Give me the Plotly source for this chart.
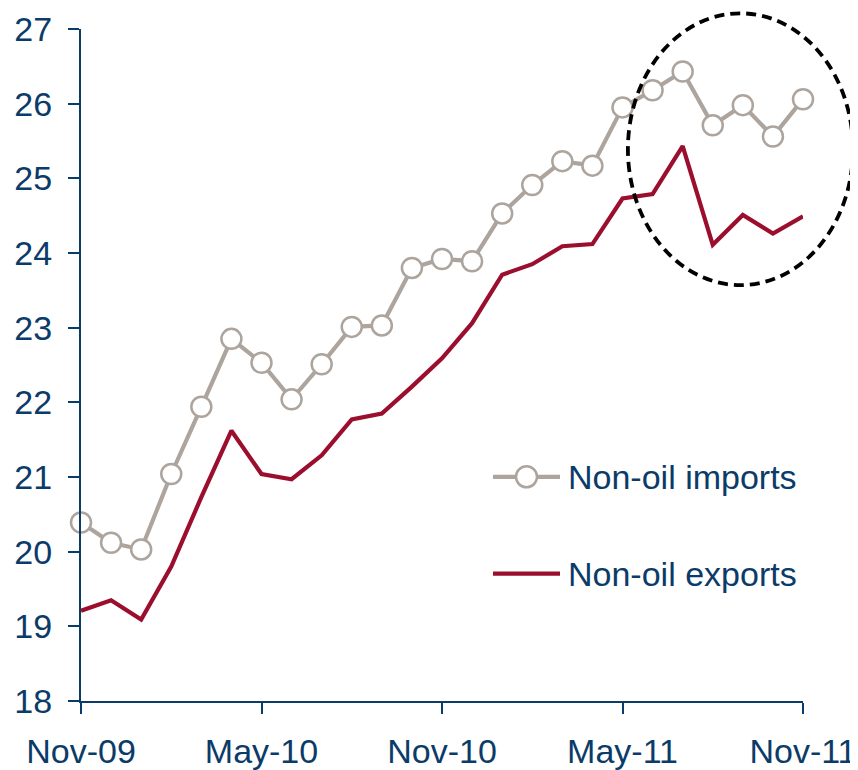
import plotly.graph_objects as go

# ---- data ----
months = ["Nov-09", "Dec-09", "Jan-10", "Feb-10", "Mar-10", "Apr-10", "May-10",
          "Jun-10", "Jul-10", "Aug-10", "Sep-10", "Oct-10", "Nov-10", "Dec-10",
          "Jan-11", "Feb-11", "Mar-11", "Apr-11", "May-11", "Jun-11", "Jul-11",
          "Aug-11", "Sep-11", "Oct-11", "Nov-11"]
imports = [20.39, 20.12, 20.03, 21.04, 21.94, 22.85, 22.53, 22.04, 22.51, 23.01,
           23.03, 23.80, 23.92, 23.89, 24.53, 24.91, 25.23, 25.17, 25.95, 26.18,
           26.43, 25.71, 25.98, 25.56, 26.06]
exports = [19.21, 19.35, 19.09, 19.80, 20.73, 21.62, 21.04, 20.97, 21.29, 21.77,
           21.85, 22.21, 22.59, 23.06, 23.71, 23.85, 24.09, 24.12, 24.73, 24.79,
           25.43, 24.11, 24.51, 24.26, 24.49]
tick_labels = ["Nov-09", "May-10", "Nov-10", "May-11", "Nov-11"]
y_ticks = [18, 19, 20, 21, 22, 23, 24, 25, 26, 27]
series_names = ["Non-oil imports", "Non-oil exports"]

# ---- style ----
NAVY = "#0B3B68"
TAUPE = "#ADA59D"
CRIMSON = "#9B0E2D"
FONT = "Liberation Sans, Arial, sans-serif"
FS = 34

y_min, y_max = 18, 27
n = len(months) - 1

fig = go.Figure()
fig.add_trace(go.Scatter(
    x=months, y=exports, mode="lines", name=series_names[1],
    line=dict(color=CRIMSON, width=4.2), showlegend=False, cliponaxis=False))
fig.add_trace(go.Scatter(
    x=months, y=imports, mode="lines+markers", name=series_names[0],
    line=dict(color=TAUPE, width=4.2),
    marker=dict(symbol="circle", size=20, color="white",
                line=dict(color=TAUPE, width=2.5)),
    showlegend=False, cliponaxis=False))

# dashed ellipse highlighting last months (data units -> paper)
cx, rx = 21.92, 3.74         # month index centre / radius
cy, ry = 25.39, 1.82         # value centre / radius
def px(i):
    return i / n
def py(v):
    return (v - y_min) / (y_max - y_min)

shapes = [dict(type="circle", xref="paper", yref="paper",
               x0=px(cx - rx), x1=px(cx + rx), y0=py(cy - ry), y1=py(cy + ry),
               line=dict(color="black", width=3.8, dash="10px,6px"),
               layer="above")]

# manual legend (positions relative to the plot area)
L = 722.0  # plot width px
H = 673.0  # plot height px
def lx(p):
    return (p - 81) / L
def ly(p):
    return (701.5 - p) / H

annotations = []
for name, color, ypix, marker in [(series_names[0], TAUPE, 477, True),
                                  (series_names[1], CRIMSON, 574, False)]:
    shapes.append(dict(type="line", xref="paper", yref="paper",
                       x0=lx(493), x1=lx(560), y0=ly(ypix), y1=ly(ypix),
                       line=dict(color=color, width=4.2), layer="above"))
    if marker:
        shapes.append(dict(type="circle", xref="paper", yref="paper",
                           x0=lx(516), x1=lx(537), y0=ly(ypix + 10.5), y1=ly(ypix - 10.5),
                           fillcolor="white", line=dict(color=color, width=2.5),
                           layer="above"))
    annotations.append(dict(xref="paper", yref="paper", x=lx(566), y=ly(ypix),
                            text=name, showarrow=False, xanchor="left",
                            yanchor="middle",
                            font=dict(family=FONT, size=FS, color=NAVY)))

# page body has an 8px margin, so the figure is 8px smaller each way
fig.update_layout(
    width=850, height=762,
    margin=dict(l=73, r=55, t=20.5, b=68.5, autoexpand=False),
    paper_bgcolor="white", plot_bgcolor="white",
    font=dict(family=FONT, size=FS, color=NAVY),
    shapes=shapes, annotations=annotations,
    showlegend=False,
    xaxis=dict(type="category", categoryorder="array", categoryarray=months,
               range=[0, n], tickmode="array", tickvals=tick_labels,
               ticktext=tick_labels, ticks="outside", ticklen=11, tickwidth=2,
               tickcolor=NAVY, showline=True, linecolor=NAVY, linewidth=2,
               showgrid=False, zeroline=False, automargin=False,
               ticklabelstandoff=8,
               tickfont=dict(family=FONT, size=FS, color=NAVY)),
    yaxis=dict(range=[y_min, y_max], tickmode="array", tickvals=y_ticks,
               ticks="outside", ticklen=11, tickwidth=2, tickcolor=NAVY,
               showline=True, linecolor=NAVY, linewidth=2, showgrid=False,
               zeroline=False, ticklabelstandoff=9, automargin=False,
               tickfont=dict(family=FONT, size=FS, color=NAVY)),
)

fig.write_html("out.html")
